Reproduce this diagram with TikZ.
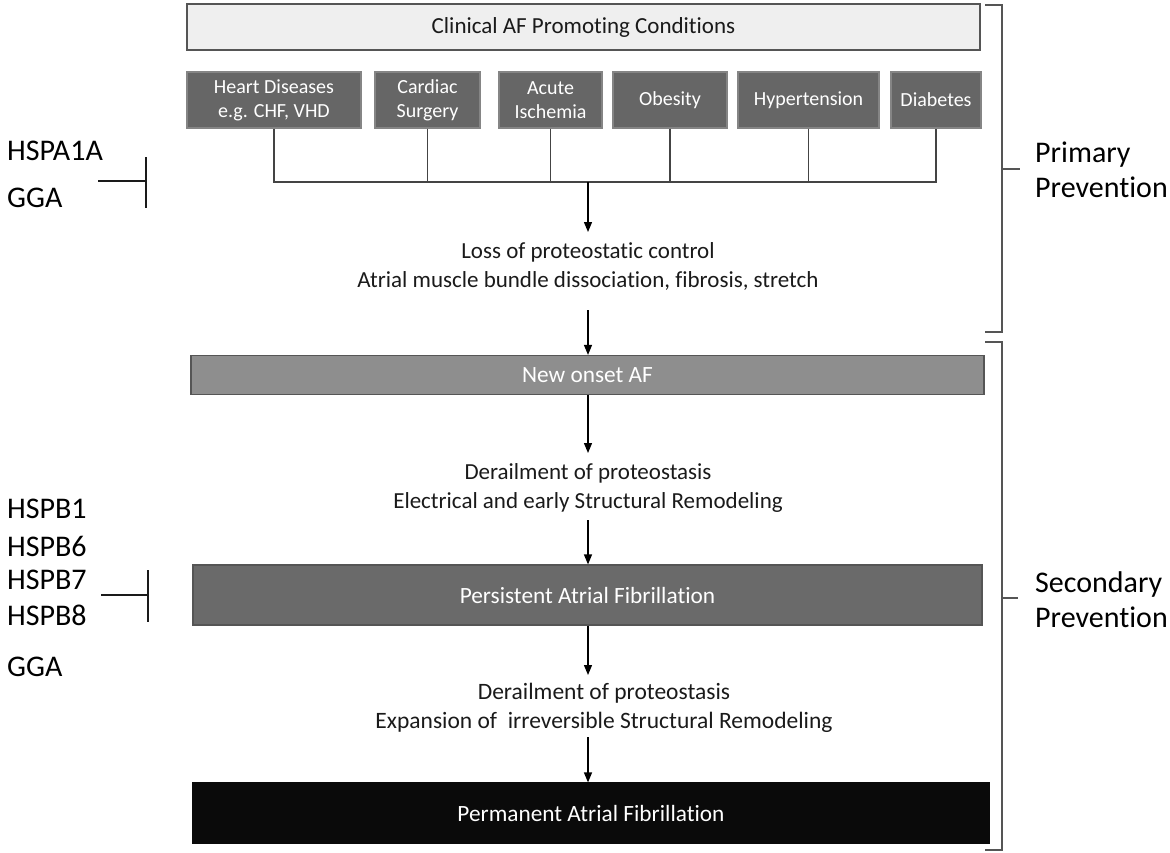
\documentclass[tikz,border=0pt]{standalone}
\usepackage{fontspec}
\setmainfont[Ligatures={NoCommon}]{Carlito}
\usetikzlibrary{arrows.meta}
\definecolor{hdrfill}{HTML}{EFEFEF}
\definecolor{edge}{HTML}{555555}
\definecolor{condfill}{HTML}{666666}
\definecolor{onsetfill}{HTML}{8E8E8E}
\definecolor{persfill}{HTML}{6A6A6A}
\definecolor{permfill}{HTML}{0A0A0A}
\definecolor{ink}{HTML}{1A1A1A}
\definecolor{wire}{HTML}{444444}
\tikzset{
  box/.style={draw=edge, line width=1.2pt, inner sep=0pt, align=center},
  hdrbox/.style={box, fill=hdrfill, text=ink, font=\fontsize{23}{27}\selectfont},
  condbox/.style={box, draw=condfill!80!white, fill=condfill, text=white, font=\fontsize{20}{24}\selectfont},
  stagebox/.style={box, text=white, font=\fontsize{23.3}{27}\selectfont},
  midtext/.style={align=center, text=ink, inner sep=0pt, font=\fontsize{23}{29}\selectfont},
  sidetext/.style={align=left, text=black, inner sep=0pt, anchor=west, font=\fontsize{30}{35}\selectfont},
  wireline/.style={draw=wire, line width=1.3pt},
  flow/.style={draw=black, line width=1.3pt, -{Triangle[length=10pt,width=8pt]}},
  bracket/.style={draw=edge, line width=1.5pt},
  blocker/.style={draw=ink, line width=1.5pt},
}
\begin{document}
\begin{tikzpicture}[x=1pt, y=-1pt]
\useasboundingbox (0,0) rectangle (1170,852);

% heading and the six promoting conditions
\node[hdrbox, minimum width=793pt, minimum height=46pt] (hdr) at (583.5,27) {Clinical AF Promoting Conditions};
\node[condbox, minimum width=174pt, minimum height=56pt] (heart) at (274,100) {Heart Diseases\\e.g. CHF, VHD};
\node[condbox, minimum width=105pt, minimum height=56pt] (surg) at (427.5,100) {Cardiac\\Surgery};
\node[condbox, minimum width=103pt, minimum height=56pt] (isch) at (550.5,100) {Acute\\Ischemia};
\node[condbox, minimum width=114pt, minimum height=56pt] (obes) at (670,100) {Obesity};
\node[condbox, minimum width=141pt, minimum height=56pt] (hyp) at (808.5,100) {Hypertension};
\node[condbox, minimum width=90pt, minimum height=56pt] (diab) at (936,100) {Diabetes};

% collecting bus
\coordinate (bus) at (588,182);
\draw[wireline] (heart.south) |- (bus) -| (diab.south);
\draw[wireline] (surg.south) -- (surg.south |- bus);
\draw[wireline] (isch.south) -- (isch.south |- bus);
\draw[wireline] (obes.south) -- (obes.south |- bus);
\draw[wireline] (hyp.south) -- (hyp.south |- bus);

% progression
\node[midtext] (loss) at (588,266) {Loss of proteostatic control\\Atrial muscle bundle dissociation, fibrosis, stretch};
\node[stagebox, fill=onsetfill, minimum width=793pt, minimum height=39pt] (onset) at (587.5,375) {New onset AF};
\node[midtext] (der1) at (588,488) {Derailment of proteostasis\\Electrical and early Structural Remodeling};
\node[stagebox, fill=persfill, minimum width=789pt, minimum height=60pt] (pers) at (587.5,595) {Persistent Atrial Fibrillation};
\node[midtext, font=\fontsize{23.5}{29}\selectfont] (der2) at (604,708) {Derailment of proteostasis\\Expansion of\ \ irreversible Structural Remodeling};
\node[stagebox, fill=permfill, draw=permfill, minimum width=796pt, minimum height=60pt] (perm) at (591,813) {Permanent Atrial Fibrillation};

\coordinate (a1) at (588,232);
\draw[flow] (bus) -- (a1);
\coordinate (a2s) at (588,310);
\draw[flow] (a2s) -- (a2s |- onset.north);
\coordinate (a3e) at (588,453);
\draw[flow] (a3e |- onset.south) -- (a3e);
\coordinate (a4s) at (588,520);
\draw[flow] (a4s) -- (a4s |- pers.north);
\coordinate (a5e) at (588,675);
\draw[flow] (a5e |- pers.south) -- (a5e);
\coordinate (a6s) at (588,737);
\draw[flow] (a6s) -- (a6s |- perm.north);

% prevention brackets
\draw[bracket] (985,5) -- (1002,5) -- (1002,332) -- (985,332);
\coordinate (pt) at (1002,169);
\draw[bracket] (pt) -- ++(18,0);
\node[sidetext] (prim) at (1035,170) {Primary\\Prevention};
\draw[bracket] (985,342) -- (1002,342) -- (1002,850) -- (985,850);
\coordinate (st) at (1002,598);
\draw[bracket] (st) -- ++(16,0);
\node[sidetext] (sec) at (1035,600) {Secondary\\Prevention};

% chaperone modulators
\node[sidetext] (hspa) at (7,151) {HSPA1A};
\node[sidetext] (gga1) at (7,198) {GGA};
\coordinate (b1) at (146,181);
\draw[blocker] (98,181) -- (b1);
\draw[blocker] (146,157) -- (146,208);

\node[sidetext] (hspb1) at (7,509) {HSPB1};
\node[sidetext] (hspb6) at (7,546) {HSPB6};
\node[sidetext] (hspb7) at (7,580) {HSPB7};
\node[sidetext] (hspb8) at (7,615) {HSPB8};
\node[sidetext] (gga2) at (7,667) {GGA};
\coordinate (b2) at (148,595);
\draw[blocker] (101,595) -- (b2);
\draw[blocker] (148,570) -- (148,622);
\end{tikzpicture}
\end{document}
